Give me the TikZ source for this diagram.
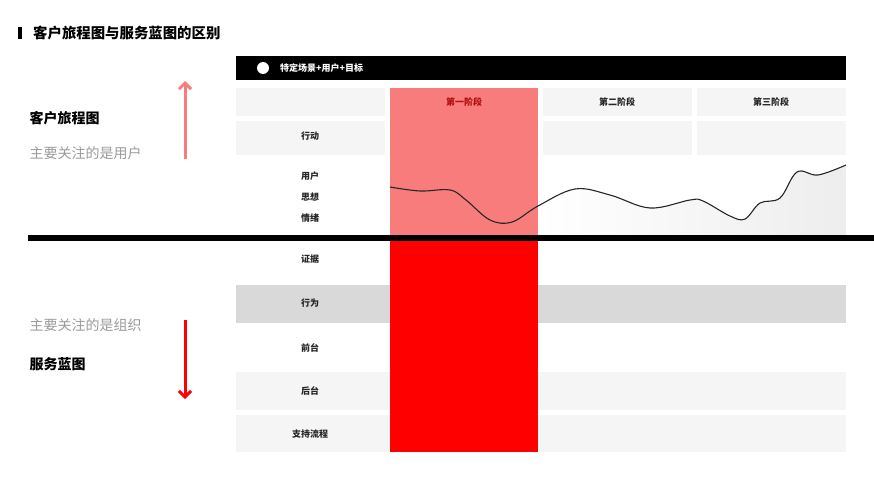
\documentclass[tikz,border=0pt]{standalone}
\usepackage{fontspec}
\setmainfont{Noto Sans CJK SC}
\usetikzlibrary{arrows.meta}
\definecolor{cellgray}{HTML}{F5F5F5}
\definecolor{rowgray}{HTML}{D9D9D9}
\definecolor{lightred}{HTML}{F87C7C}
\definecolor{darkred}{HTML}{B01010}
\definecolor{softgray}{HTML}{9A9A9A}
\tikzset{
	cell/.style={fill=cellgray, draw=none},
	lab/.style={font=\fontsize{9}{11}\selectfont\bfseries, text=black!85},
	side/.style={font=\fontsize{14}{16}\selectfont, anchor=west},
}

\begin{document}
\begin{tikzpicture}[x=1pt, y=-1pt]
		%%%%% START %%%%%
		\useasboundingbox (0, 0) rectangle (874, 495);
		
		% title
		\fill[black] (18, 27) rectangle (22, 39);
		\node[side, font=\fontsize{14.4}{16}\selectfont\bfseries, inner sep=0] (title) at (33, 33) {客户旅程图与服务蓝图的区别};
		
		% top bar
		\fill[black] (236, 56) rectangle (846, 80);
		\fill[white] (263, 68) circle (6);
		\node[lab, text=white, anchor=west, inner sep=0] (scene) at (280, 68) {特定场景+用户+目标};
		
		% header and action rows
		\fill[cell] (236, 88) rectangle (385, 116);
		\fill[cell] (543, 88) rectangle (692, 116);
		\fill[cell] (697, 88) rectangle (846, 116);
		\fill[cell] (236, 121) rectangle (385, 155);
		\fill[cell] (543, 121) rectangle (692, 155);
		\fill[cell] (697, 121) rectangle (846, 155);
		
		% blueprint rows
		\fill[rowgray] (236, 285) rectangle (846, 323);
		\fill[cell] (236, 372) rectangle (846, 410);
		\fill[cell] (236, 415) rectangle (846, 452);
		
		% shading under the curve
		\begin{scope}
			\clip (538, 236) -- plot[smooth, tension=0.6] coordinates {(538, 205) (575, 189) (610, 195) (650, 208) (690, 200) (703, 201) (730, 216) (745, 219) (760, 203) (780, 198) (797, 172) (818, 175) (846, 165)} -- (846, 236) -- cycle;
			\shade[left color=white, right color=black!7] (538, 160) rectangle (846, 236);
		\end{scope}
		
		% stage one column
		\fill[lightred] (390, 88) rectangle (538, 238);
		\fill[red] (390, 238) rectangle (538, 452);
		
		% emotion curve
		\draw[line width=1.1pt, black!85] plot[smooth, tension=0.6] coordinates {(390, 187) (420, 191) (450, 190) (466, 200) (490, 220) (512, 222) (538, 206) (575, 189) (610, 195) (650, 208) (690, 200) (703, 201) (730, 216) (745, 219) (760, 203) (780, 198) (797, 172) (818, 175) (846, 165)};
		
		% divider
		\fill[black] (28, 235) rectangle (874, 241);
		
		% stage labels
		\node[lab, text=darkred] (st1) at (464, 102) {第一阶段};
		\node[lab] (st2) at (617, 102) {第二阶段};
		\node[lab] (st3) at (771, 102) {第三阶段};
		
		% row labels
		\node[lab] (act) at (310, 136) {行动};
		\node[lab] (usr) at (310, 176) {用户};
		\node[lab] (thk) at (310, 197) {思想};
		\node[lab] (emo) at (310, 218) {情绪};
		\node[lab] (evd) at (310, 259) {证据};
		\node[lab] (bhv) at (310, 303) {行为};
		\node[lab] (front) at (310, 348) {前台};
		\node[lab] (back) at (310, 391) {后台};
		\node[lab] (sup) at (310, 434) {支持流程};
		
		% left side
		\node[side, font=\fontsize{14}{16}\selectfont\bfseries] (cjm) at (26, 118) {客户旅程图};
		\node[side, text=softgray] (cjmnote) at (26, 153) {主要关注的是用户};
		\node[side, text=softgray] (sbnote) at (26, 325) {主要关注的是组织};
		\node[side, font=\fontsize{14}{16}\selectfont\bfseries] (sb) at (26, 364) {服务蓝图};
		
		\coordinate (upfoot) at (185, 159);
		\coordinate (uphead) at (185, 81);
		\draw[-{Straight Barb[length=6pt, width=12pt]}, line width=3pt, lightred] (upfoot) -- (uphead);
		\coordinate (dnfoot) at (185, 320);
		\coordinate (dnhead) at (185, 399);
		\draw[-{Straight Barb[length=6pt, width=12pt]}, line width=3pt, red] (dnfoot) -- (dnhead);
		
		%%%%% END %%%%%
	\end{tikzpicture}
\end{document}
